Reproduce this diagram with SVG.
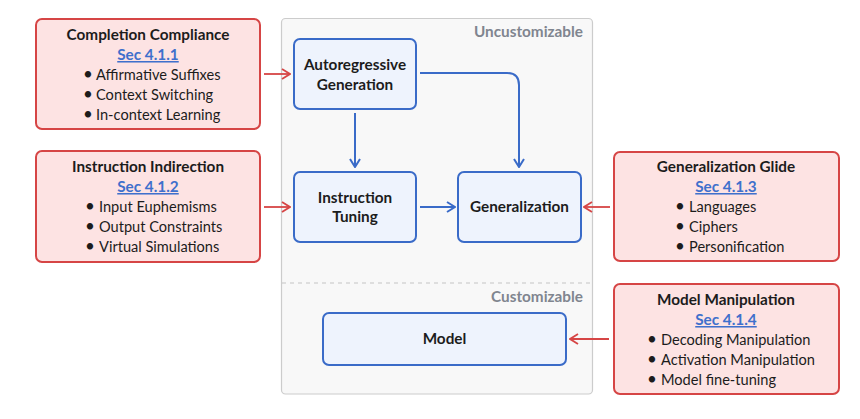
<svg xmlns="http://www.w3.org/2000/svg" width="860" height="419" viewBox="0 0 860 419">
<defs>
<style>
text{font-family:Lato,"Source Sans Pro","Noto Sans",sans-serif;font-size:14.6px;fill:#1c1c1c}
.b{font-size:17px}
.t{font-weight:700;font-size:15.3px;text-anchor:middle}
.lk{font-weight:700;font-size:15.3px;text-anchor:middle;fill:#3f70cc;text-decoration:underline}
.zone{font-weight:700;font-size:15.3px;text-anchor:end;fill:#80858f}
.red{fill:#fde3e3;stroke:#d64545;stroke-width:2}
.blue{fill:#eef3fd;stroke:#3a6bc8;stroke-width:2}
.ra{fill:none;stroke:#d64545;stroke-width:1.8;marker-end:url(#mr)}
.ba{fill:none;stroke:#3a6bc8;stroke-width:2;marker-end:url(#mb)}
</style>
<marker id="mr" viewBox="0 0 10 12" refX="9" refY="6" markerWidth="10" markerHeight="12" markerUnits="userSpaceOnUse" orient="auto">
<path d="M1,1 L9,6 L1,11" fill="none" stroke="#d64545" stroke-width="1.8"/>
</marker>
<marker id="mb" viewBox="0 0 10 12" refX="9" refY="6" markerWidth="10" markerHeight="12" markerUnits="userSpaceOnUse" orient="auto">
<path d="M1,1 L9,6 L1,11" fill="none" stroke="#3a6bc8" stroke-width="2"/>
</marker>
</defs>
<rect width="860" height="419" fill="#ffffff"/>

<g id="container">
<rect x="281.5" y="18.5" width="311" height="375.5" rx="4" fill="#f8f8f8" stroke="#cccccc" stroke-width="1.2"/>
<line x1="282" y1="283" x2="592" y2="283" stroke="#c4c4c4" stroke-width="1.2" stroke-dasharray="4,4"/>
<text class="zone" x="583" y="37">Uncustomizable</text>
<text class="zone" x="583" y="302">Customizable</text>
</g>

<g id="completion-compliance">
<rect class="red" x="36" y="19" width="224" height="110" rx="6"/>
<text class="t" x="148" y="40">Completion Compliance</text>
<text class="lk" x="148" y="60">Sec 4.1.1</text>
<text class="b" x="83" y="80">•</text><text x="96" y="80">Affirmative Suffixes</text>
<text class="b" x="83" y="100">•</text><text x="96" y="100">Context Switching</text>
<text class="b" x="83" y="120">•</text><text x="96" y="120">In-context Learning</text>
</g>

<g id="instruction-indirection">
<rect class="red" x="36" y="151" width="224" height="111" rx="6"/>
<text class="t" x="148" y="172">Instruction Indirection</text>
<text class="lk" x="148" y="192">Sec 4.1.2</text>
<text class="b" x="85" y="212">•</text><text x="99" y="212">Input Euphemisms</text>
<text class="b" x="85" y="232">•</text><text x="99" y="232">Output Constraints</text>
<text class="b" x="85" y="252">•</text><text x="99" y="252">Virtual Simulations</text>
</g>

<g id="generalization-glide">
<rect class="red" x="614" y="152" width="225" height="109" rx="6"/>
<text class="t" x="726" y="172">Generalization Glide</text>
<text class="lk" x="726" y="192">Sec 4.1.3</text>
<text class="b" x="675" y="212">•</text><text x="689" y="212">Languages</text>
<text class="b" x="675" y="232">•</text><text x="689" y="232">Ciphers</text>
<text class="b" x="675" y="252">•</text><text x="689" y="252">Personification</text>
</g>

<g id="model-manipulation">
<rect class="red" x="614" y="284" width="225" height="110" rx="6"/>
<text class="t" x="726" y="305">Model Manipulation</text>
<text class="lk" x="726" y="325">Sec 4.1.4</text>
<text class="b" x="647" y="345">•</text><text x="661" y="345">Decoding Manipulation</text>
<text class="b" x="647" y="365">•</text><text x="661" y="365">Activation Manipulation</text>
<text class="b" x="647" y="385">•</text><text x="661" y="385">Model fine-tuning</text>
</g>

<g id="autoregressive-generation">
<rect class="blue" x="294" y="39" width="122" height="70" rx="6"/>
<text class="t" x="355" y="70">Autoregressive</text>
<text class="t" x="355" y="90">Generation</text>
</g>

<g id="instruction-tuning">
<rect class="blue" x="294" y="172" width="122" height="70" rx="6"/>
<text class="t" x="355" y="203">Instruction</text>
<text class="t" x="355" y="222">Tuning</text>
</g>

<g id="generalization">
<rect class="blue" x="458" y="172" width="123" height="70" rx="6"/>
<text class="t" x="519.5" y="212">Generalization</text>
</g>

<g id="model">
<rect class="blue" x="323" y="313" width="243" height="52" rx="6"/>
<text class="t" x="444.5" y="344">Model</text>
</g>

<g id="connectors">
<path class="ba" d="M355,113 V167"/>
<path class="ba" d="M420,73 H507 Q519,73 519,85 V167"/>
<path class="ba" d="M420,207 H455"/>
<path class="ra" d="M264,74 H290"/>
<path class="ra" d="M264,207 H290"/>
<path class="ra" d="M610,207 H584"/>
<path class="ra" d="M609,339 H570"/>
</g>
</svg>
